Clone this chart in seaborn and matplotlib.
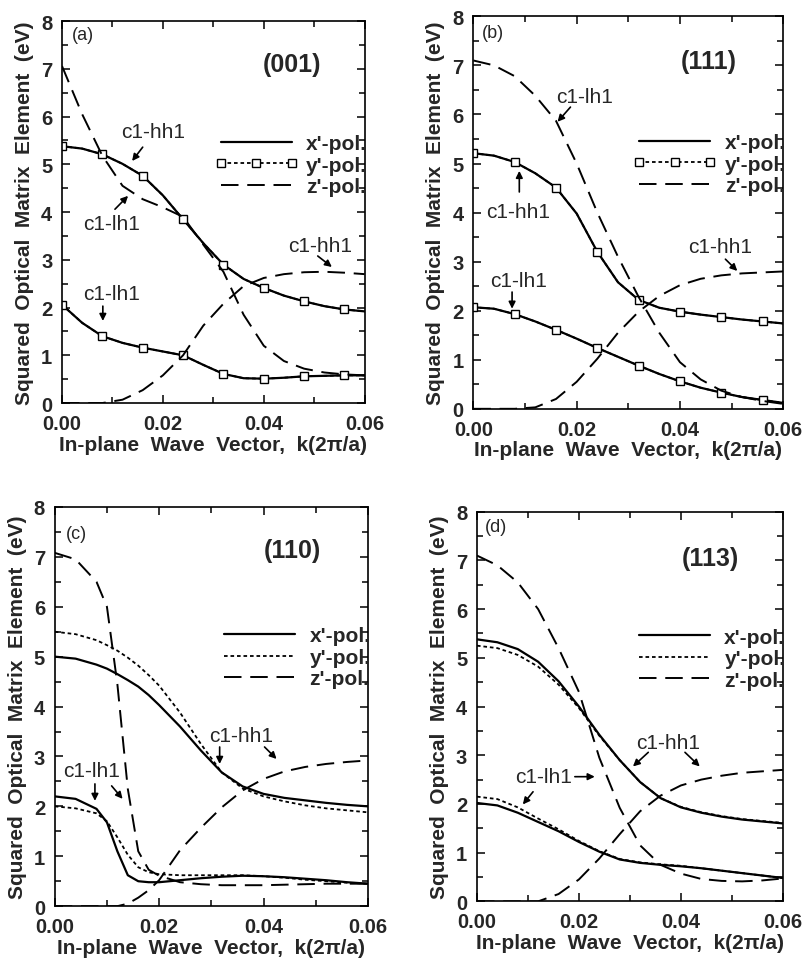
"""
Squared optical matrix element vs in-plane wave vector, four surface orientations
"""

import matplotlib
matplotlib.use('Agg')
import matplotlib.pyplot as plt
from matplotlib.lines import Line2D
from matplotlib.ticker import MultipleLocator, FormatStrFormatter
import seaborn as sns

# ==================================================================================
# DATA
# ==================================================================================

k = [0.000, 0.004, 0.008, 0.012, 0.016, 0.020, 0.024, 0.028,
     0.032, 0.036, 0.040, 0.044, 0.048, 0.052, 0.056, 0.060]
k_c = [0.000, 0.004, 0.008, 0.010, 0.012, 0.014, 0.016, 0.018, 0.020, 0.024,
       0.028, 0.032, 0.036, 0.040, 0.044, 0.048, 0.052, 0.056, 0.060]

# (a) (001)
a_hh_x = [5.38, 5.33, 5.21, 5.01, 4.76, 4.35, 3.85, 3.35, 2.90, 2.60, 2.41, 2.25, 2.13, 2.03, 1.96, 1.92]
a_lh_x = [2.06, 1.68, 1.40, 1.26, 1.16, 1.08, 1.00, 0.80, 0.61, 0.52, 0.51, 0.53, 0.56, 0.57, 0.58, 0.58]
a_hh_y = [5.38, 5.33, 5.21, 5.01, 4.76, 4.35, 3.85, 3.35, 2.90, 2.60, 2.41, 2.25, 2.13, 2.03, 1.96, 1.92]
a_lh_y = [2.06, 1.68, 1.40, 1.26, 1.16, 1.08, 1.00, 0.80, 0.61, 0.52, 0.51, 0.53, 0.56, 0.57, 0.58, 0.58]
a_lh_z = [7.06, 6.05, 5.18, 4.55, 4.27, 4.10, 3.90, 3.32, 2.75, 1.85, 1.20, 0.88, 0.72, 0.64, 0.60, 0.58]
a_hh_z = [0.00, 0.00, 0.00, 0.07, 0.27, 0.58, 1.00, 1.62, 2.08, 2.45, 2.62, 2.70, 2.74, 2.75, 2.73, 2.70]

# (b) (111)
b_hh_x = [5.21, 5.16, 5.03, 4.80, 4.51, 3.98, 3.20, 2.58, 2.22, 2.06, 1.98, 1.92, 1.87, 1.82, 1.78, 1.74]
b_lh_x = [2.07, 2.04, 1.93, 1.78, 1.61, 1.43, 1.24, 1.06, 0.88, 0.71, 0.56, 0.43, 0.33, 0.24, 0.18, 0.12]
b_hh_y = [5.21, 5.16, 5.03, 4.80, 4.51, 3.98, 3.20, 2.58, 2.22, 2.06, 1.98, 1.92, 1.87, 1.82, 1.78, 1.74]
b_lh_y = [2.07, 2.04, 1.93, 1.78, 1.61, 1.43, 1.24, 1.06, 0.88, 0.71, 0.56, 0.43, 0.33, 0.24, 0.18, 0.12]
b_lh_z = [7.10, 7.00, 6.78, 6.38, 5.87, 5.00, 4.00, 3.10, 2.28, 1.55, 0.95, 0.60, 0.37, 0.24, 0.16, 0.10]
b_hh_z = [0.00, 0.00, 0.00, 0.03, 0.20, 0.55, 1.02, 1.55, 1.98, 2.30, 2.52, 2.65, 2.72, 2.76, 2.78, 2.80]

# (c) (110)
c_hh_x = [5.00, 4.96, 4.84, 4.76, 4.65, 4.53, 4.40, 4.23, 4.03, 3.60, 3.12, 2.68, 2.40, 2.25, 2.17, 2.12, 2.07, 2.03, 2.00]
c_lh_x = [2.20, 2.15, 1.95, 1.68, 1.10, 0.62, 0.50, 0.48, 0.48, 0.52, 0.56, 0.59, 0.61, 0.60, 0.58, 0.55, 0.52, 0.48, 0.45]
c_hh_y = [5.50, 5.45, 5.33, 5.23, 5.12, 4.98, 4.82, 4.63, 4.42, 3.88, 3.25, 2.68, 2.36, 2.20, 2.10, 2.02, 1.96, 1.92, 1.88]
c_lh_y = [2.00, 1.96, 1.86, 1.70, 1.38, 1.03, 0.78, 0.68, 0.64, 0.62, 0.62, 0.62, 0.62, 0.60, 0.57, 0.53, 0.50, 0.47, 0.45]
c_lh_z = [7.08, 6.95, 6.50, 6.00, 4.45, 2.35, 1.10, 0.73, 0.61, 0.48, 0.44, 0.42, 0.42, 0.42, 0.43, 0.44, 0.45, 0.45, 0.45]
c_hh_z = [0.00, 0.00, 0.00, 0.00, 0.00, 0.05, 0.17, 0.32, 0.52, 1.12, 1.57, 1.98, 2.32, 2.55, 2.70, 2.79, 2.85, 2.89, 2.92]

# (d) (113)
d_hh_x = [5.38, 5.32, 5.18, 4.92, 4.52, 4.00, 3.42, 2.90, 2.45, 2.12, 1.93, 1.82, 1.74, 1.68, 1.64, 1.60]
d_lh_x = [2.02, 1.97, 1.82, 1.63, 1.44, 1.22, 1.02, 0.86, 0.79, 0.75, 0.72, 0.68, 0.63, 0.58, 0.53, 0.48]
d_hh_y = [5.25, 5.20, 5.06, 4.82, 4.45, 3.97, 3.40, 2.90, 2.45, 2.12, 1.94, 1.83, 1.75, 1.69, 1.65, 1.61]
d_lh_y = [2.15, 2.10, 1.93, 1.70, 1.48, 1.24, 1.03, 0.87, 0.80, 0.76, 0.73, 0.68, 0.63, 0.58, 0.53, 0.48]
d_lh_z = [7.10, 6.90, 6.55, 6.00, 5.20, 4.30, 2.95, 1.92, 1.15, 0.75, 0.57, 0.46, 0.42, 0.41, 0.43, 0.47]
d_hh_z = [0.00, 0.00, 0.00, 0.00, 0.15, 0.45, 0.88, 1.38, 1.85, 2.17, 2.38, 2.50, 2.58, 2.64, 2.67, 2.70]

pol_labels = ["x'-pol.", "y'-pol.", "z'-pol."]

# ==================================================================================
# STYLE
# ==================================================================================

sns.set_theme(style='ticks')
plt.rcParams['font.family'] = ['Liberation Sans', 'DejaVu Sans']
plt.rcParams['axes.linewidth'] = 1.2

SOLID = dict(color='black', lw=1.6, linestyle='-')
DOT = dict(color='black', lw=1.3, linestyle=(0, (2.0, 1.6)))
DASH = dict(color='black', lw=1.4, linestyle=(0, (9, 4.5)))
SQUARE = dict(marker='s', markersize=6, markerfacecolor='white',
              markeredgecolor='black', markeredgewidth=1.0)

ARROW = dict(arrowstyle='-|>', color='black', lw=1.2, mutation_scale=10,
             shrinkA=0, shrinkB=0)

fig = plt.figure(figsize=(8.05, 9.62), dpi=100)

panels = [
    dict(rect=[0.077, 0.580, 0.376, 0.397], kk=k, tag='(a)', plane='(001)', squares=True,
         curves=(a_hh_x, a_lh_x, a_hh_y, a_lh_y, a_lh_z, a_hh_z),
         tag_xy=(0.0042, 7.73), plane_xy=(0.0455, 7.10),
         texts=[('c1-hh1', 0.0180, 5.68), ('c1-lh1', 0.0099, 3.77),
                ('c1-hh1', 0.0511, 3.29), ('c1-lh1', 0.0099, 2.30)],
         arrows=[((0.0160, 5.36), (0.0139, 5.07)), ((0.0105, 4.06), (0.0131, 4.34)),
                 ((0.0507, 3.08), (0.0535, 2.85)), ((0.0081, 2.03), (0.0081, 1.72))]),
    dict(rect=[0.588, 0.574, 0.385, 0.408], kk=k, tag='(b)', plane='(111)', squares=True,
         curves=(b_hh_x, b_lh_x, b_hh_y, b_lh_y, b_lh_z, b_hh_z),
         tag_xy=(0.0037, 7.68), plane_xy=(0.0455, 7.09),
         texts=[('c1-lh1', 0.0215, 6.37), ('c1-hh1', 0.0087, 4.03),
                ('c1-hh1', 0.0478, 3.30), ('c1-lh1', 0.0087, 2.61)],
         arrows=[((0.0188, 6.15), (0.0163, 5.85)), ((0.0089, 4.42), (0.0089, 4.85)),
                 ((0.0488, 3.05), (0.0511, 2.81)), ((0.0075, 2.38), (0.0075, 2.04))]),
    dict(rect=[0.068, 0.057, 0.389, 0.415], kk=k_c, tag='(c)', plane='(110)', squares=False,
         curves=(c_hh_x, c_lh_x, c_hh_y, c_lh_y, c_lh_z, c_hh_z),
         tag_xy=(0.0042, 7.47), plane_xy=(0.0456, 7.13),
         texts=[('c1-lh1', 0.0071, 2.71), ('c1-hh1', 0.0358, 3.41)],
         arrows=[((0.0077, 2.45), (0.0077, 2.11)), ((0.0109, 2.41), (0.0130, 2.15)),
                 ((0.0316, 3.19), (0.0316, 2.85)), ((0.0402, 3.19), (0.0425, 2.95))]),
    dict(rect=[0.5925, 0.062, 0.380, 0.405], kk=k, tag='(d)', plane='(113)', squares=False,
         curves=(d_hh_x, d_lh_x, d_hh_y, d_lh_y, d_lh_z, d_hh_z),
         tag_xy=(0.0037, 7.69), plane_xy=(0.0457, 7.06),
         texts=[('c1-lh1', 0.0131, 2.57), ('c1-hh1', 0.0374, 3.27)],
         arrows=[((0.0192, 2.56), (0.0231, 2.56)), ((0.0110, 2.25), (0.0090, 1.99)),
                 ((0.0336, 3.06), (0.0306, 2.77)), ((0.0408, 3.06), (0.0437, 2.77))]),
]

# ==================================================================================
# DRAW
# ==================================================================================

for p in panels:
    ax = fig.add_axes(p['rect'])
    kk = p['kk']
    hh_x, lh_x, hh_y, lh_y, lh_z, hh_z = p['curves']
    ykw = dict(DOT, **SQUARE, markevery=2) if p['squares'] else DOT

    for vals in (hh_x, lh_x):
        sns.lineplot(x=kk, y=vals, ax=ax, errorbar=None, **SOLID)
    for vals in (hh_y, lh_y):
        sns.lineplot(x=kk, y=vals, ax=ax, errorbar=None, **ykw)
    for vals in (lh_z, hh_z):
        sns.lineplot(x=kk, y=vals, ax=ax, errorbar=None, **DASH)

    ax.set_xlim(0, 0.06)
    ax.set_ylim(0, 8)
    ax.xaxis.set_major_locator(MultipleLocator(0.02))
    ax.xaxis.set_minor_locator(MultipleLocator(0.01))
    ax.yaxis.set_major_locator(MultipleLocator(1))
    ax.yaxis.set_minor_locator(MultipleLocator(0.5))
    ax.xaxis.set_major_formatter(FormatStrFormatter('%.2f'))
    ax.yaxis.set_major_formatter(FormatStrFormatter('%d'))
    ax.tick_params(which='both', direction='in', top=True, right=True,
                   width=1.1, labelsize=14.5, color='black')
    ax.tick_params(which='major', length=6)
    ax.tick_params(which='minor', length=4)
    ax.tick_params(axis='x', pad=8)
    ax.tick_params(axis='y', pad=7)
    for lab in ax.get_xticklabels() + ax.get_yticklabels():
        lab.set_fontweight('bold')
    for sp in ax.spines.values():
        sp.set_color('black')

    ax.set_xlabel('In-plane  Wave  Vector,  k(2\u03c0/a)', fontsize=15,
                  fontweight='bold', labelpad=1)
    ax.set_ylabel('Squared  Optical  Matrix  Element  (eV)', fontsize=15,
                  fontweight='bold', labelpad=5)

    # legend (last character cut by the right spine, as in the original)
    handles = [Line2D([], [], **SOLID),
               Line2D([], [], **(dict(DOT, **SQUARE) if p['squares'] else DOT)),
               Line2D([], [], **DASH)]
    leg = ax.legend(handles, pol_labels, loc='center right', bbox_to_anchor=(1.008, 0.623),
                    frameon=False, prop={'weight': 'bold', 'size': 15}, handlelength=4.0,
                    handletextpad=0.4, labelspacing=0.12, borderaxespad=0, borderpad=0,
                    numpoints=3)
    for t in leg.get_texts():
        t.set_clip_box(ax.bbox)
        t.set_clip_on(True)

    # labels and arrows
    ax.text(*p['tag_xy'], p['tag'], fontsize=13, ha='center', va='center')
    ax.text(*p['plane_xy'], p['plane'], fontsize=18, fontweight='bold',
            ha='center', va='center')
    for txt, tx, ty in p['texts']:
        ax.text(tx, ty, txt, fontsize=15, ha='center', va='center')
    for tail, head in p['arrows']:
        ax.annotate('', xy=head, xytext=tail, arrowprops=ARROW)

fig.savefig('out.png', dpi=100)
